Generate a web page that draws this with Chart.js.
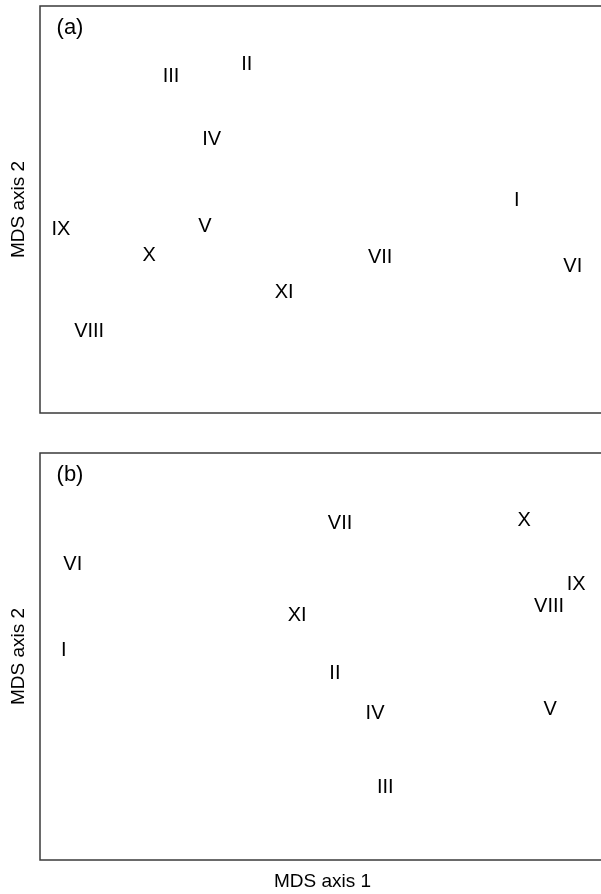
<!DOCTYPE html>
<html>
<head>
<meta charset="utf-8">
<script src="https://cdn.jsdelivr.net/npm/chart.js@4/dist/chart.umd.min.js"></script>
<style>
  body { margin: 0; background: #fff; overflow: hidden; }
  #wrapA { position: absolute; left: 0; top: 0; }
  #wrapB { position: absolute; left: 0; top: 440px; }
</style>
</head>
<body>
<div id="wrapA"><canvas id="mdsA" width="610" height="440"></canvas></div>
<div id="wrapB"><canvas id="mdsB" width="610" height="454"></canvas></div>
<script>
// site labels, same order in both panels
const sites = ['I', 'II', 'III', 'IV', 'V', 'VI', 'VII', 'VIII', 'IX', 'X', 'XI']

// panel (a) ordination scores
const axis1A = [84.4, 36.6, 23.2, 30.4, 29.2, 94.3, 60.2, 8.7, 3.7, 19.3, 43.2]
const axis2A = [52.1, 85.7, 82.6, 67.1, 45.9, 36.1, 38.3, 20.1, 45.2, 38.6, 29.7]

// panel (b) ordination scores
const axis1B = [4.2, 52.2, 61.1, 59.3, 90.3, 5.8, 53.1, 90.1, 94.9, 85.7, 45.5]
const axis2B = [51.4, 45.9, 17.7, 35.9, 36.9, 72.5, 82.8, 62.2, 67.6, 83.5, 60.2]

const FONT = '"Liberation Sans", Arial, sans-serif'

// draws the frame, the site names at their points and the panel letter
const labelPoints = {
  id: 'labelPoints',
  afterDatasetsDraw(chart, args, opts) {
    const ctx = chart.ctx
    const area = chart.chartArea
    ctx.save()
    ctx.strokeStyle = '#3a3a3a'
    ctx.lineWidth = 1.5
    ctx.strokeRect(area.left, area.top, area.right - area.left, area.bottom - area.top)
    ctx.fillStyle = '#000'
    ctx.font = '20px ' + FONT
    ctx.textAlign = 'center'
    ctx.textBaseline = 'middle'
    chart.getDatasetMeta(0).data.forEach((pt, i) => {
      ctx.fillText(sites[i], pt.x, pt.y)
    })
    ctx.font = '22px ' + FONT
    ctx.fillText(opts.panel, area.left + 30, area.top + 22)
    ctx.restore()
  }
}

function makeChart(id, xs, ys, panel, showX, padding) {
  return new Chart(document.getElementById(id), {
    type: 'scatter',
    data: {
      datasets: [{
        data: xs.map((x, i) => ({ x: x, y: ys[i] })),
        pointRadius: 0
      }]
    },
    options: {
      responsive: false,
      animation: false,
      layout: { padding: padding },
      plugins: {
        legend: { display: false },
        tooltip: { enabled: false },
        labelPoints: { panel: panel }
      },
      scales: {
        x: {
          type: 'linear', min: 0, max: 100,
          display: showX,
          ticks: { display: false },
          grid: { display: false, drawTicks: false },
          border: { display: false },
          title: {
            display: showX, text: 'MDS axis 1', color: '#000',
            font: { family: FONT, size: 19 },
            padding: { top: 10.6, bottom: 0.6 }
          }
        },
        y: {
          type: 'linear', min: 0, max: 100,
          ticks: { display: false },
          grid: { display: false, drawTicks: false },
          border: { display: false },
          title: {
            display: true, text: 'MDS axis 2', color: '#000',
            font: { family: FONT, size: 19 },
            padding: { top: 4, bottom: 10.2 }
          }
        }
      }
    },
    plugins: [labelPoints]
  })
}

makeChart('mdsA', axis1A, axis2A, '(a)', false, { top: 6, bottom: 27, left: 3, right: 5 })
makeChart('mdsB', axis1B, axis2B, '(b)', true, { top: 13, bottom: 0, left: 3, right: 5 })
</script>
</body>
</html>
